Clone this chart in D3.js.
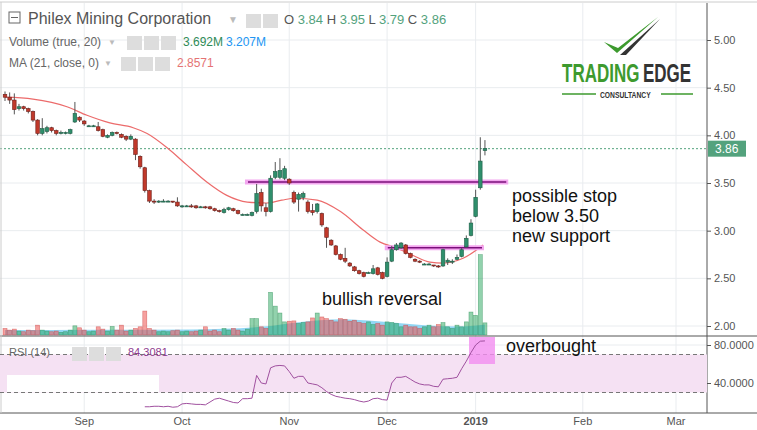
<!DOCTYPE html>
<html>
<head>
<meta charset="utf-8">
<script src="https://cdn.jsdelivr.net/npm/d3@7"></script>
<style>
  body { margin: 0; background: #fff; }
  text { font-family: Arial, "Liberation Sans", sans-serif; }
</style>
</head>
<body>
<div id="chart"></div>
<script>
// daily candles, Aug 2018 - Jan 2019
const opens  = [4.43,4.40,4.37,4.28,4.30,4.28,4.25,4.16,4.02,4.04,4.08,4.05,4.02,4.03,4.02,4.14,4.19,4.15,4.10,4.10,
                4.09,4.06,3.98,4.00,4.03,4.01,3.99,3.96,3.96,3.78,3.66,3.42,3.31,3.30,3.31,3.31,3.31,3.30,3.25,3.26,
                3.26,3.26,3.24,3.25,3.25,3.23,3.21,3.19,3.22,3.23,3.21,3.17,3.17,3.16,3.20,3.40,3.24,3.20,3.56,3.56,
                3.55,3.54,3.40,3.33,3.35,3.30,3.21,3.20,3.18,3.03,2.90,2.84,2.75,2.71,2.66,2.62,2.58,2.56,2.56,2.55,
                2.61,2.56,2.52,2.68,2.80,2.82,2.85,2.76,2.70,2.68,2.65,2.65,2.64,2.63,2.63,2.67,2.67,2.70,2.73,2.83,
                2.95,3.15,3.45,3.84];
const closes = [4.40,4.37,4.27,4.30,4.28,4.25,4.16,4.02,4.07,4.08,4.05,4.02,4.03,4.03,4.06,4.23,4.16,4.12,4.10,4.10,
                4.05,3.99,4.00,4.03,4.02,3.98,3.96,3.99,3.80,3.67,3.42,3.31,3.30,3.31,3.31,3.31,3.30,3.26,3.26,3.26,
                3.25,3.24,3.25,3.24,3.23,3.21,3.20,3.22,3.24,3.21,3.18,3.17,3.17,3.19,3.39,3.26,3.20,3.55,3.62,3.63,
                3.65,3.50,3.30,3.38,3.39,3.20,3.19,3.28,3.06,2.93,2.85,2.75,2.70,2.68,2.63,2.58,2.55,2.52,2.56,2.60,
                2.54,2.50,2.67,2.80,2.85,2.87,2.76,2.72,2.68,2.67,2.65,2.65,2.63,2.62,2.80,2.69,2.68,2.72,2.80,2.92,
                3.08,3.35,3.73,3.86];
const highs  = [4.46,4.45,4.44,4.33,4.31,4.29,4.26,4.17,4.18,4.10,4.09,4.06,4.05,4.04,4.07,4.35,4.20,4.16,4.11,4.11,
                4.14,4.07,4.01,4.04,4.04,4.02,4.00,4.01,3.97,3.79,3.67,3.43,3.33,3.32,3.33,3.32,3.31,3.35,3.27,3.27,
                3.28,3.27,3.26,3.26,3.26,3.24,3.22,3.24,3.25,3.24,3.22,3.18,3.18,3.20,3.49,3.44,3.29,3.58,3.72,3.76,
                3.68,3.55,3.42,3.40,3.41,3.32,3.28,3.29,3.19,3.04,2.91,2.85,2.76,2.82,2.67,2.63,2.59,2.57,2.57,2.64,
                2.62,2.57,2.72,2.84,2.87,2.88,2.86,2.77,2.71,2.69,2.66,2.66,2.64,2.64,2.81,2.71,2.70,2.75,2.82,2.95,
                3.12,3.43,3.98,3.95];
const lows   = [4.36,4.33,4.22,4.26,4.26,4.23,4.14,4.00,4.00,4.02,4.03,4.00,4.01,4.01,4.01,4.13,4.14,4.10,4.09,4.09,
                4.04,3.98,3.97,3.99,4.01,3.97,3.94,3.95,3.74,3.65,3.40,3.29,3.28,3.29,3.30,3.30,3.29,3.25,3.24,3.25,
                3.24,3.23,3.24,3.23,3.22,3.20,3.19,3.18,3.21,3.20,3.17,3.16,3.16,3.15,3.18,3.20,3.15,3.19,3.54,3.54,
                3.53,3.48,3.28,3.20,3.32,3.18,3.16,3.18,3.04,2.82,2.84,2.74,2.69,2.66,2.62,2.57,2.54,2.51,2.55,2.54,
                2.53,2.49,2.51,2.67,2.79,2.81,2.75,2.71,2.67,2.66,2.64,2.64,2.62,2.61,2.62,2.64,2.65,2.69,2.72,2.82,
                2.94,3.14,3.43,3.79];
// volume in millions
const volumes = [2.0,1.5,1.8,1.2,1.0,1.5,1.3,3.0,1.5,1.2, 1.0,1.2,0.8,1.0,1.5,2.8,2.2,1.5,1.0,1.2,
                 2.5,1.8,1.2,2.6,1.5,3.0,1.2,1.5,2.0,2.5, 7.3,2.0,1.5,1.0,1.2,1.0,1.3,1.5,1.0,1.2,
                 1.0,1.2,1.5,2.5,1.2,1.5,1.0,2.0,1.5,2.0, 1.5,1.2,1.8,5.0,5.0,2.5,2.0,13.0,8.8,6.7,
                 4.0,4.2,4.3,3.5,3.8,4.0,5.2,6.7,5.5,5.0, 4.5,4.0,5.0,4.8,4.2,4.5,3.8,3.5,4.0,3.2,
                 3.5,3.0,4.0,3.8,3.5,2.5,3.0,2.5,2.5,2.0, 2.5,3.0,2.5,3.2,3.8,2.5,2.0,3.0,2.5,4.0,
                 7.0,6.0,24.5,3.7];
const volMaIdx = [0, 20, 40, 55, 65, 72, 80, 90, 98, 103];
const volMaVal = [1.5, 1.6, 1.7, 2.5, 4.2, 4.8, 4.2, 3.0, 2.6, 3.2];
const maIdx = [0,6,13.3,17.6,22.5,27.5,30.5,34.8,39,43.3,47.6,52,56.2,59.4,62.2,67,72,76.8,80.5,84,87.6,91.2,94,98.3,102.6];
const maVal = [4.40,4.38,4.30,4.21,4.13,4.08,4.02,3.87,3.69,3.51,3.37,3.30,3.29,3.32,3.34,3.32,3.20,3.01,2.88,2.82,2.74,2.67,2.66,2.71,2.85];
const rsiStart = 30;
const rsiVal = [15,15,15.5,15.5,15,15.5,14.5,15,18,18.5,18,17.5,17.5,17,
                20,23,24,22.5,21,19.5,19,23.5,23.5,24,48,40,39,56,58,58.5,58,52,45,47,47,40,39,38,35,31,28,26,25,24,
                23.5,22.5,21,20,21,23.5,24,22.5,22,40,46,46,47,44,41,39,38,38,36.5,36,44,44.5,45,46,55,63,72,80,84,84.3];
const priceTicks = [5.00, 4.50, 4.00, 3.50, 3.00, 2.50, 2.00];
const rsiTicks = [80, 40];
const timeLabels = ["Sep", "Oct", "Nov", "Dec", "2019", "Feb", "Mar"];
const timeIdx = [17, 38, 61, 82, 101, 124, 144];
const levels = [{ i0: 51.5, i1: 108, p: 3.51 }, { i0: 81.5, i1: 102.8, p: 2.82 }];
const lastPrice = 3.86;

const W = 757, H = 430, axisX = 707;
const svg = d3.select("#chart").append("svg").attr("width", W).attr("height", H);

const x = d3.scaleLinear().domain([0, 144]).range([5, 676]);
const y = d3.scaleLinear().domain([2, 5]).range([326, 40]);
const yv = d3.scaleLinear().domain([0, 25]).range([335, 253]);
const yr = d3.scaleLinear().domain([40, 80]).range([383, 345]);

// grid
const grid = svg.append("g").attr("stroke", "#e9ecef").attr("stroke-width", 1);
grid.selectAll(".vg").data(timeIdx).join("line")
  .attr("x1", d => x(d)).attr("x2", d => x(d)).attr("y1", 3).attr("y2", 413);
grid.selectAll(".hg").data(priceTicks).join("line")
  .attr("x1", 0).attr("x2", axisX).attr("y1", d => y(d)).attr("y2", d => y(d));
grid.selectAll(".rg").data(rsiTicks).join("line")
  .attr("x1", 0).attr("x2", axisX).attr("y1", d => yr(d)).attr("y2", d => yr(d));

// volume
const vol = svg.append("g");
vol.append("path")
  .datum(volMaIdx.map((d, i) => [d, volMaVal[i]]))
  .attr("fill", "#7fd0f2").attr("opacity", 0.85)
  .attr("d", d3.area().x(d => x(d[0])).y0(335).y1(d => yv(d[1])).curve(d3.curveMonotoneX));
vol.selectAll("rect").data(volumes).join("rect")
  .attr("x", (d, i) => x(i) - 2).attr("width", 4)
  .attr("y", d => yv(d)).attr("height", d => 335 - yv(d))
  .attr("fill", (d, i) => closes[i] >= opens[i] ? "rgba(38,166,91,0.5)" : "rgba(239,83,80,0.55)")
  .attr("stroke", (d, i) => closes[i] >= opens[i] ? "rgba(38,140,80,0.6)" : "rgba(200,60,60,0.6)")
  .attr("stroke-width", 0.6);

// last price dotted line
svg.append("line").attr("x1", 0).attr("x2", axisX).attr("y1", y(lastPrice)).attr("y2", y(lastPrice))
  .attr("stroke", "#53a27d").attr("stroke-dasharray", "2,2");

// MA line
svg.append("path")
  .datum(maIdx.map((d, i) => [d, maVal[i]]))
  .attr("fill", "none").attr("stroke", "#ec6b6b").attr("stroke-width", 1.2)
  .attr("d", d3.line().x(d => x(d[0])).y(d => y(d[1])).curve(d3.curveMonotoneX));

// support levels
const lv = svg.append("g");
lv.selectAll(".glow").data(levels).join("line")
  .attr("x1", d => x(d.i0)).attr("x2", d => x(d.i1)).attr("y1", d => y(d.p)).attr("y2", d => y(d.p))
  .attr("stroke", "#f3a6ef").attr("stroke-width", 5);
lv.selectAll(".core").data(levels).join("line")
  .attr("x1", d => x(d.i0) + 3).attr("x2", d => x(d.i1) - 2).attr("y1", d => y(d.p)).attr("y2", d => y(d.p))
  .attr("stroke", "#7a0f7a").attr("stroke-width", 1.5);

// candles
const cd = svg.append("g");
const idx = d3.range(closes.length);
cd.selectAll(".wick").data(idx).join("line")
  .attr("x1", i => x(i)).attr("x2", i => x(i)).attr("y1", i => y(highs[i])).attr("y2", i => y(lows[i]))
  .attr("stroke", "#555").attr("stroke-width", 1);
cd.selectAll(".body").data(idx).join("rect")
  .attr("x", i => x(i) - 1.8).attr("width", 3.6)
  .attr("y", i => y(Math.max(opens[i], closes[i])))
  .attr("height", i => Math.max(1, Math.abs(y(opens[i]) - y(closes[i]))))
  .attr("fill", i => closes[i] >= opens[i] ? "#2f8f6c" : "#c0392b")
  .attr("stroke", i => closes[i] >= opens[i] ? "#1e5e47" : "#6e1f1a").attr("stroke-width", 0.6);

// panel separators and axis
svg.append("line").attr("x1", 0).attr("x2", W).attr("y1", 336).attr("y2", 336).attr("stroke", "#555");
svg.append("line").attr("x1", 0).attr("x2", W).attr("y1", 413).attr("y2", 413).attr("stroke", "#555");
svg.append("line").attr("x1", axisX).attr("x2", axisX).attr("y1", 3).attr("y2", 413).attr("stroke", "#555");
svg.append("line").attr("x1", 0).attr("x2", W).attr("y1", 2).attr("y2", 2).attr("stroke", "#ccc");
svg.append("line").attr("x1", 1).attr("x2", 1).attr("y1", 2).attr("y2", 413).attr("stroke", "#ccc");

const pa = svg.append("g").attr("transform", `translate(${axisX},0)`)
  .call(d3.axisRight(y).tickValues(priceTicks).tickFormat(d3.format(".2f")).tickSize(4));
pa.select(".domain").remove();
pa.selectAll("text").attr("fill", "#555").style("font-size", "11px");
pa.selectAll("line").attr("stroke", "#555");

// last price label
svg.append("rect").attr("x", axisX + 1).attr("y", y(lastPrice) - 8).attr("width", 38).attr("height", 16).attr("fill", "#53a27d");
svg.append("text").attr("x", axisX + 8).attr("y", y(lastPrice) + 4).attr("fill", "#fff").style("font-size", "12px").text("3.86");

// RSI panel
svg.append("rect").attr("x", 0).attr("width", axisX).attr("y", yr(70)).attr("height", yr(30) - yr(70)).attr("fill", "#f5e1f3");
svg.selectAll(".rl").data([70, 30]).join("line")
  .attr("x1", 0).attr("x2", axisX).attr("y1", d => yr(d)).attr("y2", d => yr(d))
  .attr("stroke", "#777").attr("stroke-dasharray", "4,3");
svg.append("rect").attr("x", 7).attr("y", 375).attr("width", 152).attr("height", 17).attr("fill", "#fff");
svg.append("rect").attr("x", 469).attr("y", 337).attr("width", 26).attr("height", 27).attr("fill", "#f28ef0").attr("opacity", 0.8);
svg.append("path")
  .datum(rsiVal.map((d, i) => [rsiStart + i, d]))
  .attr("fill", "none").attr("stroke", "#a0509f").attr("stroke-width", 1)
  .attr("d", d3.line().x(d => x(d[0])).y(d => yr(d[1])));
const ra = svg.append("g").attr("transform", `translate(${axisX},0)`)
  .call(d3.axisRight(yr).tickValues(rsiTicks).tickFormat(d3.format(".4f")).tickSize(4));
ra.select(".domain").remove();
ra.selectAll("text").attr("fill", "#555").style("font-size", "11px");
ra.selectAll("line").attr("stroke", "#555");

// time axis
svg.selectAll(".tl").data(timeLabels).join("text")
  .attr("x", (d, i) => x(timeIdx[i])).attr("y", 425).attr("text-anchor", "middle")
  .attr("fill", "#555").style("font-size", "11px").style("font-weight", d => d === "2019" ? "bold" : "normal")
  .text(d => d);

// legend header
function icons(x0, yy, n) {
  for (let k = 0; k < n; k++)
    svg.append("rect").attr("x", x0 + k * 17).attr("y", yy - 11).attr("width", 15).attr("height", 14).attr("fill", "#ddd");
}
svg.append("rect").attr("x", 9).attr("y", 12).attr("width", 11).attr("height", 11).attr("fill", "none").attr("stroke", "#666");
svg.append("line").attr("x1", 11).attr("x2", 18).attr("y1", 17.5).attr("y2", 17.5).attr("stroke", "#666");
svg.append("text").attr("x", 28).attr("y", 24).attr("fill", "#555").style("font-size", "16px").text("Philex Mining Corporation");
svg.append("text").attr("x", 228).attr("y", 23).attr("fill", "#bbb").style("font-size", "10px").text("▼");
icons(246, 25, 2);
const ohlc = svg.append("text").attr("x", 284).attr("y", 24).style("font-size", "13px");
[["O ", "#555"], ["3.84 ", "#53a27d"], ["H ", "#555"], ["3.95 ", "#53a27d"], ["L ", "#555"], ["3.79 ", "#53a27d"], ["C ", "#555"], ["3.86", "#53a27d"]]
  .forEach(([t, c]) => ohlc.append("tspan").attr("fill", c).text(t));
svg.append("text").attr("x", 9).attr("y", 46).attr("fill", "#666").style("font-size", "12px").text("Volume (true, 20)");
svg.append("text").attr("x", 108).attr("y", 45).attr("fill", "#bbb").style("font-size", "8px").text("▼");
icons(127, 47, 3);
svg.append("text").attr("x", 183).attr("y", 46).attr("fill", "#2e8b57").style("font-size", "12px").text("3.692M");
svg.append("text").attr("x", 226).attr("y", 46).attr("fill", "#2196f3").style("font-size", "12px").text("3.207M");
svg.append("text").attr("x", 9).attr("y", 67).attr("fill", "#666").style("font-size", "12px").text("MA (21, close, 0)");
svg.append("text").attr("x", 104).attr("y", 66).attr("fill", "#bbb").style("font-size", "8px").text("▼");
icons(121, 68, 3);
svg.append("text").attr("x", 177).attr("y", 67).attr("fill", "#e57373").style("font-size", "12px").text("2.8571");
svg.append("text").attr("x", 9).attr("y", 356).attr("fill", "#666").style("font-size", "11px").text("RSI (14)");
icons(72, 358, 3);
svg.append("text").attr("x", 128).attr("y", 356).attr("fill", "#8e3a8e").style("font-size", "11px").text("84.3081");

// annotations
const ann = svg.append("g").attr("fill", "#111").style("font-size", "18px");
ann.append("text").attr("x", 322).attr("y", 305).text("bullish reversal");
ann.append("text").attr("x", 506).attr("y", 352).text("overbought");
["possible stop", "below 3.50", "new support"].forEach((t, i) =>
  ann.append("text").attr("x", 512).attr("y", 202 + i * 20).text(t));

// logo (condensed lettering via horizontal scale)
const logo = svg.append("g");
logo.append("path").attr("d", "M604,42 L617,53 L658,17 L618,48 Z").attr("fill", "#3d9a2e");
logo.append("path").attr("d", "M620,55 L626,55 L660,19 Z").attr("fill", "#333");
logo.append("text").attr("transform", "translate(562,82) scale(0.68,1)").attr("fill", "#3d9a2e")
  .style("font-size", "25px").style("font-weight", "bold").text("TRADING");
logo.append("text").attr("transform", "translate(643,82) scale(0.68,1)").attr("fill", "#333")
  .style("font-size", "25px").style("font-weight", "bold").text("EDGE");
logo.append("text").attr("transform", "translate(600,98) scale(0.75,1)").attr("fill", "#333")
  .style("font-size", "9px").style("font-weight", "bold").text("CONSULTANCY");
logo.append("line").attr("x1", 562).attr("x2", 596).attr("y1", 94).attr("y2", 94).attr("stroke", "#3d9a2e").attr("stroke-width", 1.5);
logo.append("line").attr("x1", 661).attr("x2", 693).attr("y1", 94).attr("y2", 94).attr("stroke", "#3d9a2e").attr("stroke-width", 1.5);
</script>
</body>
</html>
